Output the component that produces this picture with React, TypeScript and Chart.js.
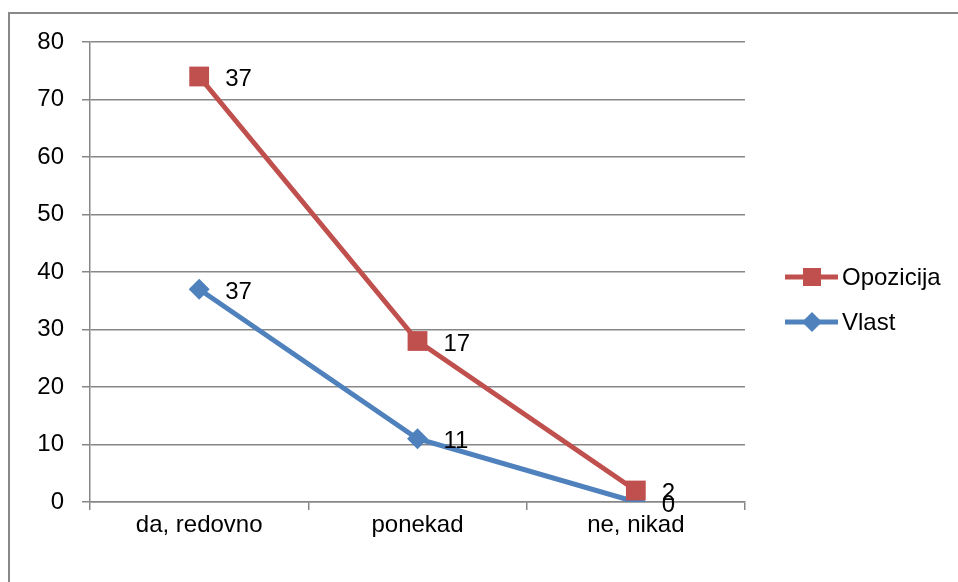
import React, { useEffect, useRef } from "react";
import { Chart, registerables } from "chart.js";

Chart.register(...registerables);

const categories = ["da, redovno", "ponekad", "ne, nikad"];
const vlast = [37, 11, 0];
const opozicija = [37, 17, 2];
const yTicks = [0, 10, 20, 30, 40, 50, 60, 70, 80];

const RED = "#C0504D";
const BLUE = "#4F81BD";
const GRID = "#878787";
const FONT = "'Liberation Sans', Arial, sans-serif";
const FS = 24;

export default function App() {
  const ref = useRef<HTMLCanvasElement | null>(null);

  useEffect(() => {
    if (!ref.current) return;
    const opozicijaStacked = opozicija.map((v, i) => v + vlast[i]);

    const labelPlugin = {
      id: "labelsLegend",
      afterDatasetsDraw(chart: any) {
        const ctx = chart.ctx;
        ctx.save();
        ctx.font = `${FS}px ${FONT}`;
        ctx.fillStyle = "#000";
        ctx.textBaseline = "middle";
        ctx.textAlign = "left";
        const raws = [opozicija, vlast];
        chart.data.datasets.forEach((ds: any, di: number) => {
          const meta = chart.getDatasetMeta(di);
          meta.data.forEach((pt: any, i: number) => {
            ctx.fillText(String(raws[di][i]), pt.x + 26, pt.y + 3);
          });
        });
        const items = [
          { label: chart.data.datasets[0].label, color: RED, shape: "square", y: 277 },
          { label: chart.data.datasets[1].label, color: BLUE, shape: "diamond", y: 322 },
        ];
        items.forEach((it) => {
          ctx.strokeStyle = it.color;
          ctx.lineWidth = 5;
          ctx.beginPath();
          ctx.moveTo(785, it.y);
          ctx.lineTo(838, it.y);
          ctx.stroke();
          ctx.fillStyle = it.color;
          const cx = 812;
          if (it.shape === "square") {
            ctx.fillRect(cx - 9, it.y - 9, 18, 18);
          } else {
            ctx.beginPath();
            ctx.moveTo(cx, it.y - 10);
            ctx.lineTo(cx + 10, it.y);
            ctx.lineTo(cx, it.y + 10);
            ctx.lineTo(cx - 10, it.y);
            ctx.closePath();
            ctx.fill();
          }
          ctx.fillStyle = "#000";
          ctx.fillText(it.label, 842, it.y + 1);
        });
        ctx.restore();
      },
    };

    const chart = new Chart(ref.current, {
      type: "line",
      data: {
        labels: categories,
        datasets: [
          {
            label: "Opozicija",
            data: opozicijaStacked,
            borderColor: RED,
            backgroundColor: RED,
            borderWidth: 5,
            pointStyle: "rect",
            pointRadius: 14,
            pointBorderWidth: 0,
            pointBackgroundColor: RED,
            tension: 0,
          },
          {
            label: "Vlast",
            data: vlast,
            borderColor: BLUE,
            backgroundColor: BLUE,
            borderWidth: 5,
            pointStyle: "rectRot",
            pointRadius: 10.5,
            pointBorderWidth: 0,
            pointBackgroundColor: BLUE,
            tension: 0,
          },
        ],
      },
      options: {
        responsive: false,
        animation: false,
        layout: { padding: { left: 0, right: 213, top: 42, bottom: 0 } },
        plugins: { legend: { display: false }, tooltip: { enabled: false } },
        scales: {
          x: {
            offset: true,
            grid: {
              offset: true,
              drawOnChartArea: false,
              drawTicks: true,
              tickLength: 8,
              color: GRID,
              lineWidth: 1.5,
            },
            border: { color: GRID, width: 1.5 },
            ticks: { font: { family: FONT, size: FS }, color: "#000", padding: 1 },
            afterFit: (s: any) => {
              s.height = 80;
            },
          },
          y: {
            min: 0,
            max: 80,
            afterBuildTicks: (s: any) => {
              s.ticks = yTicks.map((v) => ({ value: v }));
            },
            grid: { color: GRID, lineWidth: 1.5, tickLength: 8 },
            border: { color: GRID, width: 1.5 },
            ticks: { font: { family: FONT, size: FS }, color: "#000", padding: 18 },
            afterFit: (s: any) => {
              s.width = 90;
            },
          },
        },
      },
      plugins: [labelPlugin],
    });
    return () => chart.destroy();
  }, []);

  return (
    <div style={{ position: "fixed", left: 0, top: 0, width: 958, height: 582, background: "#fff", overflow: "hidden" }}>
      <canvas ref={ref} width={958} height={582} style={{ position: "absolute", left: 0, top: 0 }} />
      <div
        style={{
          position: "absolute",
          left: 8,
          top: 12,
          width: 1000,
          height: 700,
          borderTop: "2px solid #898989",
          borderLeft: "2px solid #898989",
          pointerEvents: "none",
        }}
      />
    </div>
  );
}
